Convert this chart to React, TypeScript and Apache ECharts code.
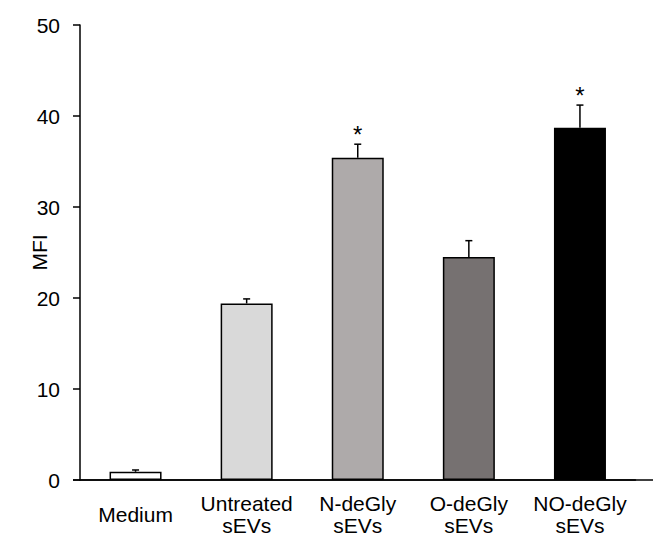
import React, { useEffect, useRef } from "react";
import * as echarts from "echarts";

const categories = ["Medium", "Untreated\nsEVs", "N-deGly\nsEVs", "O-deGly\nsEVs", "NO-deGly\nsEVs"];
const means = [0.9, 19.4, 35.4, 24.5, 38.7];
const errors = [0.2, 0.5, 1.5, 1.8, 2.5];
const significance = ["", "", "*", "", "*"];
const barColors = ["#ffffff", "#d9d9d9", "#aeaaaa", "#767171", "#000000"];
const yTicks = { min: 0, max: 50, interval: 10 };

const FONT = 'Arial, "Liberation Sans", sans-serif';

export default function App() {
  const ref = useRef<HTMLDivElement>(null);
  useEffect(() => {
    if (!ref.current) return;
    const chart = echarts.init(ref.current, undefined, { renderer: "svg" });
    const gridLeft = 80;
    const gridRight = 17.5;
    const gridTop = 25;
    const gridBottom = 56;
    const axisY = chart.getHeight() - gridBottom;
    chart.setOption({
      animation: false,
      backgroundColor: "#ffffff",
      grid: {
        left: gridLeft,
        right: gridRight,
        top: gridTop,
        bottom: gridBottom,
        containLabel: false,
        outerBoundsMode: "none",
      },
      xAxis: {
        type: "category",
        data: categories,
        axisLine: { show: true, onZero: false, lineStyle: { color: "#000", width: 1.5 } },
        axisTick: { show: false },
        axisLabel: {
          color: "#000",
          fontFamily: FONT,
          fontSize: 21,
          lineHeight: 22,
          verticalAlign: "middle",
          margin: 34,
          interval: 0,
        },
      },
      yAxis: {
        type: "value",
        min: yTicks.min,
        max: yTicks.max,
        interval: yTicks.interval,
        name: "MFI",
        nameLocation: "middle",
        nameGap: 30,
        nameMoveOverlap: false,
        nameTextStyle: { color: "#000", fontFamily: FONT, fontSize: 21 },
        axisLine: { show: true, lineStyle: { color: "#000", width: 1.5 } },
        axisTick: { show: true, inside: false, length: 7, lineStyle: { color: "#000", width: 1.5 } },
        axisLabel: { color: "#000", fontFamily: FONT, fontSize: 21, margin: 20 },
        splitLine: { show: false },
      },
      graphic: [
        {
          type: "line",
          shape: { x1: gridLeft - 7, y1: axisY, x2: chart.getWidth(), y2: axisY },
          style: { stroke: "#000", lineWidth: 1.5 },
          z: 100,
        },
      ],
      series: [
        {
          type: "bar",
          barWidth: 52,
          data: means.map((v, i) => ({
            value: v,
            itemStyle: { color: barColors[i], borderColor: "#000", borderWidth: 1.5 },
          })),
          z: 2,
        },
        {
          type: "custom",
          z: 3,
          data: means.map((v, i) => [i, v, errors[i]]),
          renderItem: (params: any, api: any) => {
            const idx = api.value(0);
            const m = api.value(1);
            const e = api.value(2);
            const sig = significance[params.dataIndex];
            const base = api.coord([idx, m]);
            const top = api.coord([idx, m + e]);
            const capHalf = 3.5;
            const children: any[] = [
              {
                type: "line",
                shape: { x1: base[0], y1: base[1], x2: top[0], y2: top[1] },
                style: { stroke: "#000", lineWidth: 1.5 },
              },
              {
                type: "line",
                shape: { x1: top[0] - capHalf, y1: top[1], x2: top[0] + capHalf, y2: top[1] },
                style: { stroke: "#000", lineWidth: 1.5 },
              },
            ];
            if (sig) {
              children.push({
                type: "text",
                x: top[0],
                y: top[1] - 10,
                style: {
                  text: sig,
                  fill: "#000",
                  font: `24px ${FONT}`,
                  align: "center",
                  verticalAlign: "middle",
                },
              });
            }
            return { type: "group", children };
          },
        },
      ],
    });
    return () => chart.dispose();
  }, []);
  return <div ref={ref} style={{ width: 653, height: 536, position: "fixed", left: 0, top: 0 }} />;
}
